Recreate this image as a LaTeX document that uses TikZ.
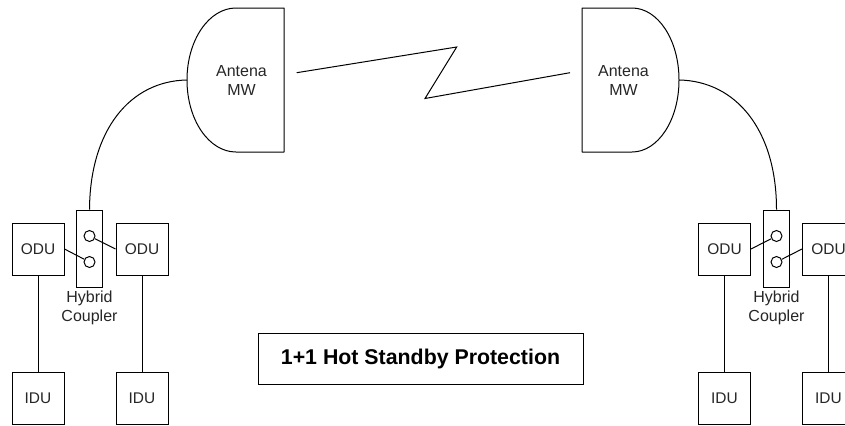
\documentclass[tikz,border=0pt]{standalone}
\usepackage{fontspec}
\setmainfont{Liberation Sans}
\begin{document}
\begin{tikzpicture}[x=0.75pt,y=-0.75pt,
  line width=0.75pt,
  unit/.style={draw,minimum width=39pt,minimum height=39pt,inner sep=0pt,font=\fontsize{11.6pt}{14pt}\selectfont,text=black!85},
  coupler/.style={draw,minimum width=19.5pt,minimum height=57.75pt,inner sep=0pt},
  port/.style={draw,circle,minimum size=8.25pt,inner sep=0pt},
  lbl/.style={inner sep=0pt,align=center,font=\fontsize{12pt}{14pt}\selectfont,text=black!85},
  dish/.style={line join=round}]
\useasboundingbox (0,0) rectangle (845,425);
\clip (0,0) rectangle (845,425);
% left station
\node[unit] (odua) at (38,249) {ODU};
\node[unit] (odub) at (142,249) {ODU};
\node[unit] (idua) at (38,398) {IDU};
\node[unit] (idub) at (142,398) {IDU};
\node[coupler] (cpl) at (89.5,248.5) {};
\node[port] (pa) at (89.5,236) {};
\node[port] (pb) at (89.5,262) {};
\node[lbl] (hyl) at (89.5,308) {Hybrid\\Coupler};
% right station
\node[unit] (oduc) at (724.5,249) {ODU};
\node[unit] (odud) at (828.5,249) {ODU};
\node[unit] (iduc) at (724.5,398) {IDU};
\node[unit] (idud) at (828.5,398) {IDU};
\node[coupler] (cpr) at (776.5,248.5) {};
\node[port] (pc) at (776.5,236) {};
\node[port] (pd) at (776.5,262) {};
\node[lbl] (hyr) at (776.5,308) {Hybrid\\Coupler};
% antennas
\coordinate (al) at (187,80);
\coordinate (ar) at (679,80);
\draw[dish] (236,8) -- (284,8) -- (284,152) -- (236,152)
  .. controls (209,152) and (187,120) .. (al)
  .. controls (187,40) and (209,8) .. cycle;
\draw[dish] (632,8) -- (582,8) -- (582,152) -- (632,152)
  .. controls (658,152) and (679,120) .. (ar)
  .. controls (679,40) and (658,8) .. cycle;
\node[lbl] (tl) at (241.5,80.5) {Antena\\MW};
\node[lbl] (tr) at (623.5,80.5) {Antena\\MW};
% links
\draw (al) .. controls (130,81) and (90,130) .. (cpl.north);
\draw (ar) .. controls (736,81) and (776.5,130) .. (cpr.north);
\draw (odua) -- (idua);
\draw (odub) -- (idub);
\draw (oduc) -- (iduc);
\draw (odud) -- (idud);
\draw (odua.east) -- (pb);
\draw (odub.west) -- (pa);
\draw (oduc.east) -- (pc);
\draw (odud.west) -- (pd);
% zig-zag
\coordinate (za) at (296.7,72.7);
\coordinate (zb) at (456.7,47);
\coordinate (zc) at (425,98.5);
\coordinate (zd) at (570,72.7);
\draw[line join=miter] (za) -- (zb) -- (zc) -- (zd);
% title
\node[draw,minimum width=243.75pt,minimum height=38.25pt,inner sep=0pt,font=\bfseries\fontsize{16pt}{18pt}\selectfont] (ttl) at (420.5,358.5) {1+1 Hot Standby Protection};
\end{tikzpicture}
\end{document}
